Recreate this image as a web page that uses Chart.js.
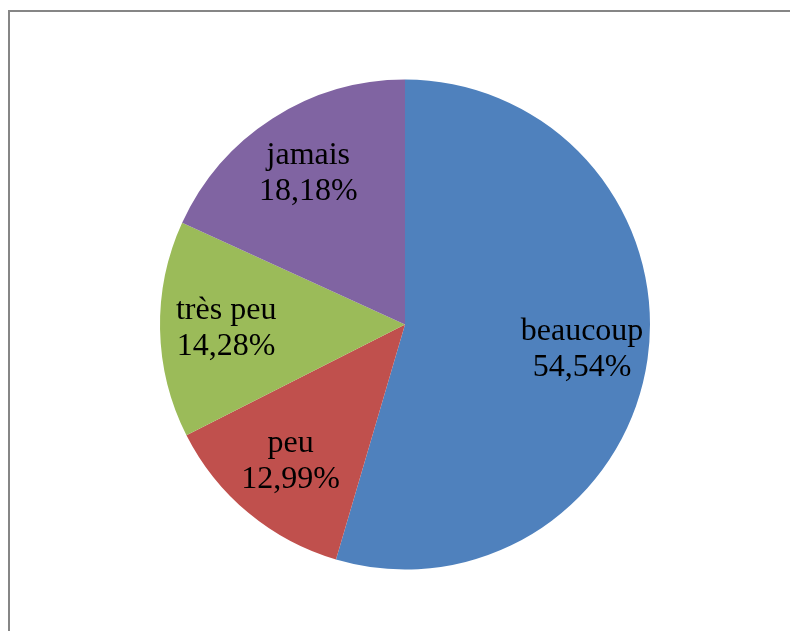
<!DOCTYPE html>
<html>
<head>
<meta charset="utf-8">
<script src="https://cdn.jsdelivr.net/npm/chart.js@4/dist/chart.umd.min.js"></script>
<style>
    html, body { margin: 0; padding: 0; background: #ffffff; }
    #cadre {
        position: absolute;
        left: 0; top: 0;
        width: 790px; height: 631px;
        overflow: hidden;
    }
    #bordure {
        position: absolute;
        left: 8px; top: 10px;
        width: 900px; height: 800px;
        border-left: 2px solid #868686;
        border-top: 2px solid #868686;
    }
    #zone { position: absolute; left: 0; top: 0; width: 790px; height: 631px; }
</style>
</head>
<body>
<div id="cadre">
    <div id="bordure"></div>
    <div id="zone"><canvas id="graficoPizza"></canvas></div>
</div>
<script>
// Données
const categories = ['beaucoup', 'peu', 'très peu', 'jamais'];
const valeurs = [54.54, 12.99, 14.28, 18.18];
const etiquettes = ['54,54%', '12,99%', '14,28%', '18,18%'];
const couleurs = ['#4F81BD', '#C0504D', '#9BBB59', '#8064A2'];

// Plugin simple pour écrire nom + pourcentage dans chaque part
const pluginEtiquettes = {
    id: 'etiquettes',
    afterDatasetsDraw(chart) {
        const ctx = chart.ctx;
        const meta = chart.getDatasetMeta(0);
        ctx.save();
        ctx.fillStyle = '#000000';
        ctx.font = '32px "Liberation Serif", "Times New Roman", serif';
        ctx.textAlign = 'center';
        ctx.textBaseline = 'middle';
        meta.data.forEach((arc, i) => {
            const p = arc.getProps(['x', 'y', 'startAngle', 'endAngle', 'outerRadius']);
            const meio = (p.startAngle + p.endAngle) / 2;
            const r = p.outerRadius * 0.73;
            const x = p.x + Math.cos(meio) * r;
            const y = p.y + Math.sin(meio) * r;
            ctx.fillText(categories[i], x, y - 18);
            ctx.fillText(etiquettes[i], x, y + 18);
        });
        ctx.restore();
    }
};

new Chart(document.getElementById('graficoPizza').getContext('2d'), {
    type: 'pie',
    data: {
        labels: categories,
        datasets: [{
            data: valeurs,
            backgroundColor: couleurs,
            borderWidth: 0
        }]
    },
    options: {
        responsive: true,
        maintainAspectRatio: false,
        animation: false,
        layout: { padding: { left: 160, right: 140, top: 79, bottom: 61 } },
        plugins: {
            legend: { display: false },
            tooltip: { enabled: false }
        }
    },
    plugins: [pluginEtiquettes]
});
</script>
</body>
</html>
